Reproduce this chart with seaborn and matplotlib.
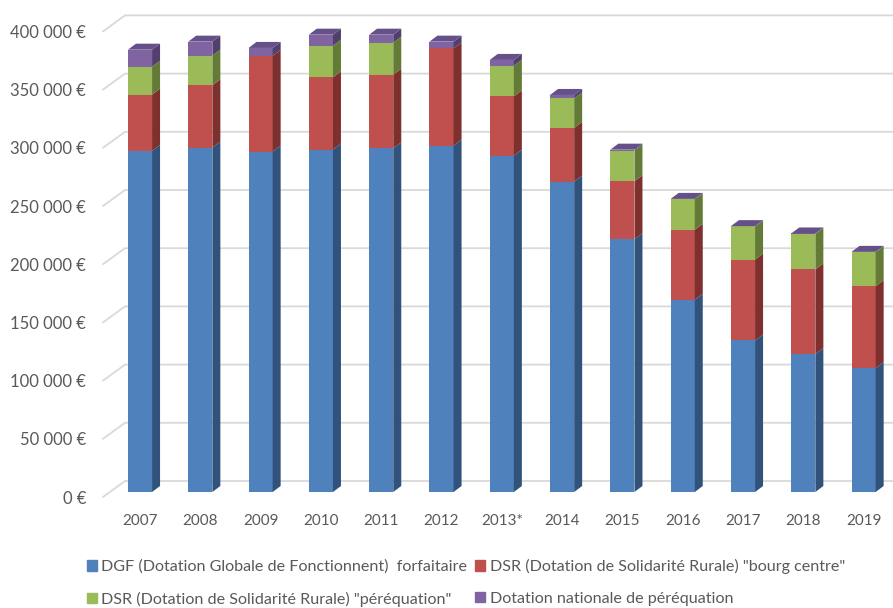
import matplotlib
matplotlib.use('Agg')
import numpy as np
import pandas as pd
import seaborn as sns
from matplotlib import pyplot as plt
from matplotlib.patches import Patch

years = ["2007", "2008", "2009", "2010", "2011", "2012", "2013*",
         "2014", "2015", "2016", "2017", "2018", "2019"]
dgf = [293000, 295900, 292400, 294200, 295300, 297600, 289000,
       266700, 217200, 165100, 130200, 118500, 106400]
dsr_bourg = [48400, 53500, 82200, 62000, 63200, 83500, 50900,
             46100, 49800, 60100, 69500, 72700, 70400]
dsr_pereq = [24000, 25500, 0, 27200, 27500, 0, 26400,
             25400, 26300, 26300, 28400, 30600, 29200]
dnp = [14600, 12000, 6900, 9500, 6900, 5800, 4900,
       2900, 800, 300, 300, 300, 300]

labels = ["DGF (Dotation Globale de Fonctionnent)  forfaitaire",
          "DSR (Dotation de Solidarité Rurale) \"bourg centre\"",
          "DSR (Dotation de Solidarité Rurale) \"péréquation\"",
          "Dotation nationale de péréquation"]
front = ["#4F81BD", "#C0504D", "#9BBB59", "#8064A2"]
side = ["#31527A", "#7E302E", "#647A37", "#533F6E"]
top = ["#3F6797", "#9A3F3C", "#7C9747", "#65508A"]

sns.set_theme(style="white")
plt.rcParams['font.family'] = ['Lato', 'DejaVu Sans']
txt = "#595959"

W, H = 893, 608
fig = plt.figure(figsize=(W / 100, H / 100), dpi=100)
ax = fig.add_axes([103 / W, (H - 500) / H, (W - 103) / W, 490 / H])

df = pd.DataFrame({"year": years, "dgf": dgf, "bourg": dsr_bourg,
                   "pereq": dsr_pereq, "dnp": dnp})
cols = ["dgf", "bourg", "pereq", "dnp"]
cum = df[cols].cumsum(axis=1)

# front faces: cumulative totals drawn tallest first
for k in range(3, -1, -1):
    sns.barplot(x=df["year"], y=cum[cols[k]], color=front[k], width=0.4,
                saturation=1, ax=ax, zorder=2, linewidth=0)

spacing = 60.3
upp = 50000 / 58.2
xlim = ((103 - 140) / spacing, (893 - 140) / spacing)
ylim = (-(500 - 492) * upp, (492 - 10) * upp)
ax.set_xlim(xlim)
ax.set_ylim(ylim)

dx = 8 / spacing
dy = 6 * upp
half = 0.2

# 3d sides and tops
for i in range(len(years)):
    bottom = 0
    vals = [df.loc[i, c] for c in cols]
    last = max(k for k in range(4) if vals[k] > 0)
    for k in range(4):
        t = bottom + vals[k]
        if vals[k] > 0:
            xr = i + half
            ax.fill([xr, xr + dx, xr + dx, xr], [bottom, bottom + dy, t + dy, t],
                    color=side[k], zorder=2, lw=0)
        if k == last:
            xl = i - half
            ax.fill([xl, xl + dx, xr + dx, xr], [t, t + dy, t + dy, t],
                    color=top[k], zorder=2, lw=0)
        bottom = t

# back wall gridlines with the left wall diagonal
ticks = np.arange(0, 400001, 50000)
for v in ticks:
    yf = v - 5 * upp
    yb = v + 11 * upp
    xb = xlim[0] + 22 / spacing
    ax.plot([xlim[0], xb, xlim[1]], [yf, yb, yb], color="#D9D9D9",
            lw=1.3, zorder=0, clip_on=False)

ax.set_yticks(ticks - 5 * upp, [f"{v:,} €".replace(",", " ") for v in ticks])
ax.tick_params(axis='y', length=0, pad=12, labelsize=12, labelcolor=txt)
ax.tick_params(axis='x', length=0, pad=10, labelsize=11, labelcolor=txt)
ax.set_xlabel("")
ax.set_ylabel("")
for s in ax.spines.values():
    s.set_visible(False)

order = [0, 2, 1, 3]
handles = [Patch(color=front[k]) for k in order]
fig.legend(handles, [labels[k] for k in order], ncol=2, loc='center',
           bbox_to_anchor=(466 / W, 1 - 583 / H), frameon=False,
           handlelength=0.6, handleheight=0.6, handletextpad=0.3,
           columnspacing=0.5, labelspacing=1.1, fontsize=11.6,
           labelcolor=txt)

fig.savefig("out.png", dpi=100)
